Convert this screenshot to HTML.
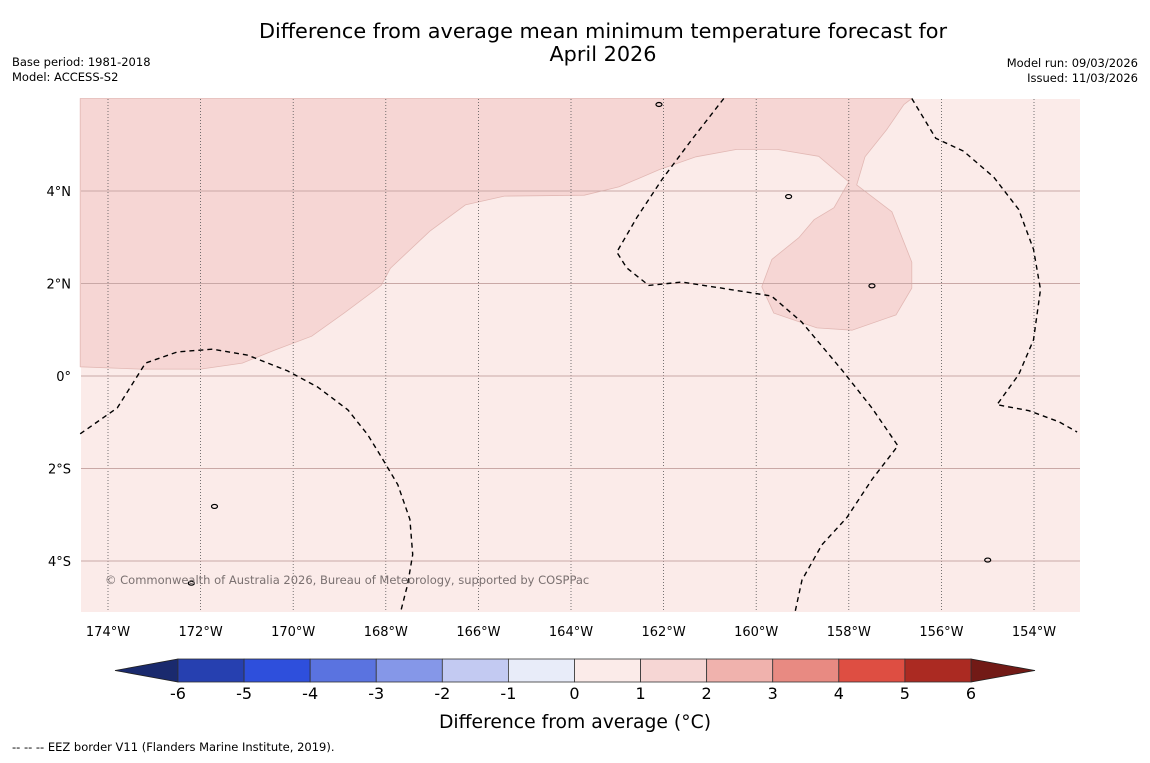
<!DOCTYPE html>
<html><head><meta charset="utf-8"><style>
body{margin:0;background:#fff;font-family:"Liberation Sans","DejaVu Sans",sans-serif}
svg text{font-family:"DejaVu Sans","Liberation Sans",sans-serif}
</style></head><body>
<svg id="c" width="1150" height="758" xmlns="http://www.w3.org/2000/svg">
<rect width="1150" height="758" fill="#fff"/>
<text x="603" y="38" font-size="20.8" text-anchor="middle">Difference from average mean minimum temperature forecast for</text>
<text x="603" y="61" font-size="20.8" text-anchor="middle">April 2026</text>
<text x="12" y="66" font-size="11.5">Base period: 1981-2018</text>
<text x="12" y="81" font-size="11.5">Model: ACCESS-S2</text>
<text x="1138" y="67" font-size="11.5" text-anchor="end">Model run: 09/03/2026</text>
<text x="1138" y="82" font-size="11.5" text-anchor="end">Issued: 11/03/2026</text>
<g id="map"></g>
<g id="cbar"></g>
<text x="575" y="728" font-size="18.75" text-anchor="middle">Difference from average (°C)</text>
<text x="12" y="751" font-size="11.5">--  --  -- EEZ border V11 (Flanders Marine Institute, 2019).</text>
</svg>
<script>
const lonTicks=[-174,-172,-170,-168,-166,-164,-162,-160,-158,-156,-154];
const latTicks=[4,2,0,-2,-4];
const cbLevels=[-6,-5,-4,-3,-2,-1,0,1,2,3,4,5,6];
const cbColors=["#2640b0","#2e4fdc","#5a73e0","#8597e8","#c3caf2","#e8ecf9","#fbebe9","#f6d6d4","#f0b2ad","#e88a82","#de4e42","#ab2a22"];
const warmRegion=[[-174.6,0.2],[-173.3,0.15],[-172,0.15],[-171.1,0.28],[-170.4,0.56],[-169.6,0.86],[-168.9,1.36],[-168.1,1.96],[-167.9,2.33],[-167.05,3.13],[-166.28,3.7],[-165.44,3.89],[-163.71,3.91],[-162.96,4.09],[-162.1,4.46],[-161.3,4.74],[-160.42,4.9],[-159.55,4.9],[-158.65,4.75],[-158,4.2],[-158.32,3.64],[-158.75,3.38],[-159.08,2.99],[-159.66,2.52],[-159.88,1.93],[-159.62,1.36],[-158.69,1.04],[-157.93,0.99],[-156.98,1.32],[-156.64,1.9],[-156.64,2.46],[-157.07,3.55],[-157.83,4.13],[-157.65,4.74],[-157.18,5.33],[-156.81,5.87],[-156.64,6],[-174.6,6]];
const eez1=[[-174.6,-1.25],[-173.8,-0.69],[-173.19,0.28],[-172.5,0.52],[-171.74,0.58],[-170.98,0.45],[-170.12,0.11],[-169.47,-0.24],[-168.82,-0.73],[-168.39,-1.27],[-168.06,-1.81],[-167.74,-2.35],[-167.48,-3.1],[-167.42,-3.86],[-167.53,-4.51],[-167.68,-5.1]];
const eez2=[[-160.7,6],[-161.4,5.1],[-162.04,4.24],[-162.58,3.42],[-163.01,2.68],[-162.8,2.34],[-162.32,1.96],[-161.61,2.03],[-160.75,1.9],[-159.67,1.73],[-159.02,1.17],[-158.15,0.13],[-157.5,-0.69],[-156.94,-1.51],[-157.5,-2.24],[-158.04,-3.06],[-158.58,-3.65],[-159.01,-4.41],[-159.16,-5.1]];
const eez3=[[-156.64,6],[-156.12,5.14],[-155.52,4.86],[-154.87,4.3],[-154.33,3.6],[-154.01,2.74],[-153.86,1.87],[-154.01,0.78],[-154.33,0.03],[-154.8,-0.62],[-154.11,-0.75],[-153.46,-0.99],[-153.07,-1.21]];
const islands=[[-159.3,3.88],[-157.5,1.95],[-171.7,-2.82],[-172.2,-4.48],[-155,-3.98],[-162.1,5.87]];
const X=lon=>108+(lon+174)*46.3, Y=lat=>376-lat*46.25;
const ns="http://www.w3.org/2000/svg";
function mk(t,a,p){const e=document.createElementNS(ns,t);for(const k in a)e.setAttribute(k,a[k]);p.appendChild(e);return e;}
const map=document.getElementById('map');
const pts=a=>a.map(p=>X(p[0]).toFixed(1)+','+Y(p[1]).toFixed(1)).join(' ');
let bg=mk('rect',{x:81,y:99,width:999,height:513,fill:'#fbebe9'},map);


let wr=mk('polygon',{points:pts(warmRegion),fill:'#f6d6d4',stroke:'#e2b8b4','stroke-width':0.8},map);


lonTicks.forEach(l=>{
 const g=mk('line',{x1:X(l),x2:X(l),y1:99,y2:612,stroke:'#555','stroke-width':0.8,'stroke-dasharray':'1,2'},map);
 
 
 const t=mk('text',{x:X(l),y:636,'font-size':13,'text-anchor':'middle'},map);
 t.textContent=Math.abs(l)+'°W';
 
 
});
latTicks.forEach(l=>{
 const g=mk('line',{x1:81,x2:1080,y1:Y(l),y2:Y(l),stroke:'#c9a8a6','stroke-width':1},map);
 
 
 const t=mk('text',{x:71,y:Y(l)+5,'font-size':13,'text-anchor':'end'},map);
 t.textContent=l===0?'0°':Math.abs(l)+'°'+(l>0?'N':'S');
 
 
});
[eez1,eez2,eez3].forEach(a=>{
 const p=mk('polyline',{points:pts(a),fill:'none',stroke:'#000','stroke-width':1.4,'stroke-dasharray':'5,4'},map);
 
 
});
islands.forEach(i=>{
 const e=mk('ellipse',{cx:X(i[0]),cy:Y(i[1]),rx:3,ry:2,fill:'none',stroke:'#000','stroke-width':1.2},map);
 
 
});
const cr=mk('text',{x:105,y:584,'font-size':11.5,fill:'#7a7070'},map);
cr.textContent='© Commonwealth of Australia 2026, Bureau of Meteorology, supported by COSPPac';


const cb=document.getElementById('cbar');
const cx=v=>178+(v+6)*66.08, cy0=659, cy1=682;
let tl=mk('polygon',{points:`${cx(-6)},${cy0} ${cx(-6)},${cy1} 115,670.5`,fill:'#1a2a6e',stroke:'#222','stroke-width':0.8},cb);


let tr=mk('polygon',{points:`${cx(6)},${cy0} ${cx(6)},${cy1} 1035,670.5`,fill:'#721a16',stroke:'#222','stroke-width':0.8},cb);


cbColors.forEach((c,i)=>{
 const r=mk('rect',{x:cx(cbLevels[i]),y:cy0,width:cx(cbLevels[i+1])-cx(cbLevels[i]),height:cy1-cy0,fill:c,stroke:'#333','stroke-width':0.8},cb);
 
 
});
cbLevels.forEach(v=>{
 const t=mk('text',{x:cx(v),y:699,'font-size':16,'text-anchor':'middle'},cb);
 t.textContent=v;
 
 
});
</script>
</body></html>
